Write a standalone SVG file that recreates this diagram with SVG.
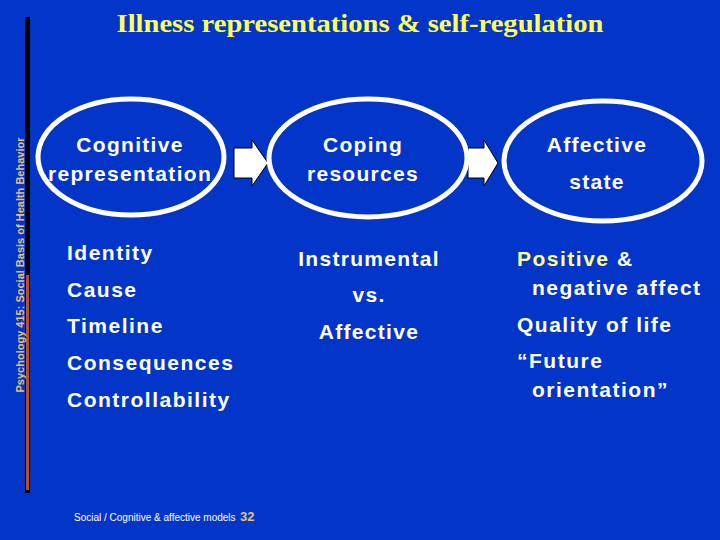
<svg xmlns="http://www.w3.org/2000/svg" width="720" height="540" viewBox="0 0 720 540">
<style>
text{font-family:"Liberation Sans",Arial,sans-serif;fill:#fff;font-weight:bold}
.n{font-size:21px;text-anchor:middle;letter-spacing:1.3px}
.l{font-size:21px;letter-spacing:1.5px}
.e{fill:none;stroke:#fff;stroke-width:5}
.a{fill:#fff;stroke:#000;stroke-width:1}
</style>
<rect width="720" height="540" fill="#0336C8"/>
<rect x="25" y="17" width="5" height="476" fill="#000"/>
<rect x="26" y="275" width="3" height="215" fill="#C0501A"/>
<text transform="translate(24,265) rotate(-90)" text-anchor="middle" style="font-size:11px;fill:#E6C27A">Psychology 415: Social Basis of Health Behavior</text>
<text x="360" y="32" text-anchor="middle" textLength="487" lengthAdjust="spacingAndGlyphs" style="font-family:'Liberation Serif',serif;font-size:25px;fill:#FFFF55">Illness representations &amp; self-regulation</text>
<g id="connectors">
<path class="a" d="M234,148 H252 V140 L268,163 L252,186 V178 H234 Z"/>
<path class="a" d="M468,148 H484 V140 L498,163 L484,186 V178 H468 Z"/>
</g>
<g id="cognitive">
<ellipse class="e" cx="131" cy="157" rx="93" ry="58"/>
<text class="n" x="130" y="152">Cognitive</text>
<text class="n" x="130" y="181">representation</text>
</g>
<g id="coping">
<ellipse class="e" cx="368" cy="158" rx="99" ry="59"/>
<text class="n" x="363" y="152">Coping</text>
<text class="n" x="363" y="181">resources</text>
</g>
<g id="affective">
<ellipse class="e" cx="603" cy="161" rx="99" ry="60"/>
<text class="n" x="597" y="152">Affective</text>
<text class="n" x="597" y="189">state</text>
</g>
<text class="l" x="67" y="260">Identity</text>
<text class="l" x="67" y="297">Cause</text>
<text class="l" x="67" y="333">Timeline</text>
<text class="l" x="67" y="370">Consequences</text>
<text class="l" x="67" y="407">Controllability</text>
<text class="n" x="369" y="266">Instrumental</text>
<text class="n" x="369" y="302">vs.</text>
<text class="n" x="369" y="339">Affective</text>
<text class="l" x="517" y="266"><tspan style="fill:#FFFF88">Positive</tspan> &amp;</text>
<text class="l" x="532" y="295">negative affect</text>
<text class="l" x="517" y="332">Quality of life</text>
<text class="l" x="517" y="368">“Future</text>
<text class="l" x="532" y="397">orientation”</text>
<text x="74" y="521" style="font-size:10px;font-weight:normal">Social / Cognitive &amp; affective models</text>
<text x="240" y="521" style="font-size:13px;fill:#E6C27A">32</text>
</svg>
